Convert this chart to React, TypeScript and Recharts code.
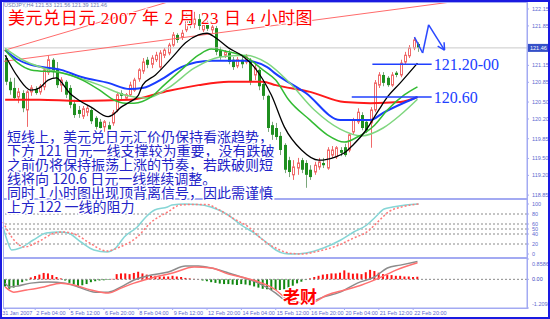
import React from 'react';
import { ComposedChart, Bar, Line, XAxis, YAxis, ReferenceLine, Cell } from 'recharts';

// ---------- data ----------
const SLOTS = 122; // bar slots shown on the time axis (97 bars + empty space on the right)

const openP = [
  121.28, 120.86, 120.75, 120.59, 120.66, 120.36, 120.68, 120.73, 120.68, 120.77,
  121.03, 121.25, 121.07, 120.80, 120.86, 120.75, 120.47, 120.36, 120.25, 120.32,
  120.36, 120.22, 120.15, 120.06, 120.09, 120.13, 120.36, 120.66, 120.57, 120.63,
  120.71, 120.91, 121.05, 121.25, 121.17, 121.25, 121.12, 121.33, 121.37, 121.51,
  121.69, 121.65, 121.78, 121.99, 121.88, 121.97, 121.78, 121.87, 121.78, 121.81,
  121.42, 121.33, 121.37, 121.25, 121.14, 121.25, 121.21, 121.25, 120.98, 121.07,
  120.82, 120.61, 120.09, 120.04, 119.90, 119.74, 119.47, 119.21, 119.33, 119.47,
  119.42, 119.30, 119.26, 119.35, 119.42, 119.33, 119.56, 119.53, 119.65, 119.70,
  119.65, 119.97, 120.15, 120.27, 120.15, 120.13, 120.36, 120.80, 120.98, 120.93,
  120.80, 121.02, 120.98, 121.21, 121.32, 121.46, 121.53,
];
const highP = [
  121.33, 120.93, 120.93, 120.75, 120.71, 120.71, 120.80, 120.78, 120.82, 121.10,
  121.33, 121.28, 121.21, 120.94, 120.89, 120.80, 120.54, 120.43, 120.43, 120.45,
  120.39, 120.25, 120.20, 120.18, 120.15, 120.36, 120.68, 120.71, 120.66, 120.86,
  120.93, 121.10, 121.28, 121.30, 121.33, 121.39, 121.42, 121.46, 121.55, 121.74,
  121.72, 121.78, 122.08, 122.06, 122.10, 122.06, 121.95, 121.94, 121.88, 121.85,
  121.48, 121.42, 121.42, 121.30, 121.30, 121.30, 121.35, 121.28, 121.16, 121.10,
  120.86, 120.63, 120.15, 120.13, 119.97, 119.77, 119.53, 119.47, 119.51, 119.51,
  119.47, 119.38, 119.44, 119.51, 119.51, 119.70, 119.72, 119.72, 119.70, 119.76,
  119.95, 120.22, 120.39, 120.32, 120.18, 120.41, 120.89, 121.03, 121.03, 120.96,
  121.03, 121.05, 121.25, 121.39, 121.51, 121.65, 121.56,
];
const lowP = [
  120.80, 120.63, 120.54, 120.48, 120.32, 120.06, 120.61, 120.63, 120.63, 120.71,
  120.98, 120.93, 120.75, 120.68, 120.57, 120.39, 120.22, 120.22, 120.20, 120.25,
  120.11, 120.00, 119.95, 119.97, 119.92, 120.08, 120.32, 120.55, 120.54, 120.59,
  120.68, 120.86, 121.00, 121.10, 121.10, 121.21, 121.09, 121.28, 121.33, 121.48,
  121.55, 121.60, 121.74, 121.81, 121.81, 121.78, 121.74, 121.76, 121.72, 121.33,
  121.25, 121.28, 121.17, 121.07, 121.10, 121.10, 121.17, 120.80, 120.89, 120.71,
  120.54, 119.97, 119.83, 119.83, 119.56, 119.24, 119.17, 119.12, 119.21, 119.24,
  118.98, 119.12, 119.21, 119.30, 119.33, 119.30, 119.51, 119.49, 119.54, 119.53,
  119.61, 119.92, 120.11, 120.00, 119.95, 119.69, 120.32, 120.75, 120.78, 120.77,
  120.77, 120.94, 120.94, 121.16, 121.28, 121.42, 121.39,
];
const closeP = [
  120.86, 120.71, 120.57, 120.68, 120.39, 120.68, 120.75, 120.66, 120.78, 121.07,
  121.25, 121.03, 120.80, 120.89, 120.63, 120.45, 120.27, 120.29, 120.38, 120.39,
  120.16, 120.06, 120.04, 120.15, 120.00, 120.31, 120.63, 120.61, 120.63, 120.80,
  120.89, 121.07, 121.21, 121.16, 121.28, 121.33, 121.37, 121.42, 121.51, 121.69,
  121.60, 121.72, 121.99, 121.87, 121.97, 121.85, 121.87, 121.80, 121.83, 121.39,
  121.30, 121.39, 121.21, 121.12, 121.25, 121.17, 121.30, 120.86, 121.10, 120.78,
  120.61, 120.04, 119.92, 119.88, 119.65, 119.30, 119.26, 119.35, 119.42, 119.30,
  119.21, 119.17, 119.38, 119.44, 119.38, 119.65, 119.65, 119.69, 119.60, 119.56,
  119.92, 120.18, 120.32, 120.04, 120.00, 120.36, 120.84, 120.98, 120.84, 120.80,
  120.98, 120.98, 121.19, 121.33, 121.46, 121.60, 121.46,
];

// moving averages: [bar index, price]
const maBlack: [number, number][] = [
  [0, 121.33], [3, 120.94], [6, 120.71], [8, 120.75], [10, 120.89], [12, 120.93], [13, 120.86],
  [15, 120.66], [17, 120.54], [20, 120.41], [24, 120.24], [25, 120.27], [27, 120.41], [29, 120.50],
  [31, 120.62], [32, 120.80], [35, 120.98], [39, 121.30], [42, 121.55], [45, 121.69], [47, 121.72],
  [49, 121.64], [52, 121.46], [55, 121.33], [58, 121.12], [60, 120.90], [62, 120.62], [65, 120.06],
  [69, 119.65], [73, 119.47], [77, 119.53], [79, 119.60], [81, 119.74], [84, 120.00], [87, 120.36],
  [89, 120.59], [92, 120.84], [96, 121.19],
];
const maGreen: [number, number][] = [
  [0, 121.42], [3, 121.19], [6, 121.07], [13, 121.02], [18, 120.89], [22, 120.71], [25, 120.55],
  [28, 120.48], [30, 120.48], [34, 120.59], [37, 120.80], [41, 121.07], [45, 121.33], [48, 121.44],
  [52, 121.39], [56, 121.30], [60, 121.07], [63, 120.89], [66, 120.54], [71, 120.18], [75, 119.92],
  [79, 119.79], [82, 119.88], [86, 120.09], [89, 120.36], [93, 120.63], [96, 120.77],
];
const maLightGreen: [number, number][] = [
  [0, 121.45], [4, 121.25], [9, 121.10], [15, 120.98], [22, 120.80], [28, 120.62], [33, 120.57],
  [38, 120.75], [44, 121.10], [50, 121.30], [56, 121.33], [61, 121.19], [66, 120.86], [72, 120.36],
  [78, 120.02], [83, 119.90], [88, 120.04], [92, 120.27], [96, 120.55],
];
const maBlue: [number, number][] = [
  [0, 121.42], [3, 121.25], [6, 121.16], [13, 121.07], [18, 120.94], [24, 120.84], [29, 120.73],
  [32, 120.75], [37, 120.93], [41, 121.12], [48, 121.23], [56, 121.23], [61, 121.12], [63, 121.00],
  [70, 120.66], [78, 120.18], [85, 120.18], [88, 120.31], [96, 120.59],
];
const maRed: [number, number][] = [
  [0, 120.54], [8, 120.54], [17, 120.52], [29, 120.54], [37, 120.68], [45, 120.80], [52, 120.86],
  [60, 120.86], [63, 120.80], [71, 120.68], [79, 120.50], [85, 120.48], [92, 120.50], [96, 120.59],
];

// stochastic: [bar index, value]
const stochK: [number, number][] = [
  [0, 54], [1, 26], [2, 8], [4, 12], [7, 28], [10, 42], [13, 44], [15, 42], [18, 24], [21, 8],
  [24, 4], [26, 12], [28, 34], [31, 54], [33, 74], [35, 88], [38, 94], [39, 98], [42, 100], [45, 99],
  [48, 94], [52, 78], [55, 58], [58, 42], [61, 22], [63, 8], [65, 1], [67, 0], [70, 2], [74, 12],
  [78, 28], [81, 44], [84, 58], [86, 74], [88, 90], [90, 94], [93, 98], [96, 100],
];
const stochD: [number, number][] = [
  [0, 64], [2, 34], [5, 14], [8, 24], [12, 42], [14, 44], [17, 38], [20, 22], [24, 6], [27, 14],
  [31, 34], [34, 62], [38, 84], [41, 98], [44, 99], [47, 99], [50, 88], [53, 72], [57, 52], [60, 28],
  [63, 12], [66, 2], [69, 0], [73, 6], [77, 16], [81, 32], [84, 44], [87, 68], [89, 84], [92, 94],
  [96, 100],
];

// MACD(5,34,5)
const macdMain: [number, number][] = [
  [0, -0.16], [1, -0.32], [3, -0.28], [6, -0.16], [10, -0.11], [14, -0.16], [17, -0.32], [21, -0.54],
  [24, -0.54], [27, -0.32], [30, -0.03], [34, 0.18], [38, 0.31], [42, 0.56], [45, 0.56], [48, 0.48],
  [52, 0.27], [55, 0.10], [59, -0.16], [63, -0.58], [65, -0.87], [67, -1.0], [70, -1.0], [74, -0.75],
  [78, -0.54], [82, -0.16], [86, 0.10], [89, 0.48], [92, 0.60], [96, 0.75],
];
const macdSignal: [number, number][] = [
  [0, -0.32], [2, -0.54], [5, -0.45], [9, -0.32], [13, -0.16], [16, -0.24], [20, -0.45], [24, -0.58],
  [27, -0.37], [30, -0.16], [34, 0.05], [39, 0.27], [44, 0.52], [48, 0.48], [52, 0.22], [55, 0.10],
  [59, -0.11], [63, -0.45], [65, -0.75], [67, -0.96], [71, -1.0], [75, -0.66], [79, -0.45], [83, -0.24],
  [87, 0.05], [91, 0.39], [96, 0.70],
];
const macdHist = [
  -0.30, -0.40, -0.35, -0.25, -0.12, -0.05, 0.08, 0.14, 0.20, 0.27,
  0.25, 0.18, 0.10, 0.04, -0.05, -0.15, -0.22, -0.28, -0.25, -0.20,
  -0.12, -0.08, -0.05, -0.04, -0.02, 0.02, 0.22, 0.25, 0.25, 0.22,
  0.27, 0.32, 0.25, 0.20, 0.15, 0.15, 0.12, 0.12, 0.12, 0.15,
  0.12, 0.10, 0.06, 0.04, 0.02, 0.01, -0.05, -0.08, -0.12, -0.15,
  -0.18, -0.20, -0.20, -0.22, -0.24, -0.20, -0.22, -0.25, -0.30, -0.35,
  -0.40, -0.42, -0.45, -0.45, -0.45, -0.42, -0.35, -0.27, -0.17, -0.10,
  -0.03, 0.04, 0.10, 0.15, 0.20, 0.22, 0.25, 0.25, 0.28, 0.38,
  0.28, 0.24, 0.25, 0.22, 0.30, 0.40, 0.35, 0.28, 0.22, 0.18,
  0.18, 0.15, 0.15, 0.12, 0.12, 0.10, 0.11,
];

// axes
const xTickIdx = [0, 7, 15, 23, 31, 39, 47, 55, 63, 71, 79, 87, 95];
const xTickLabels = [
  '31 Jan 2007', '2 Feb 04:00', '5 Feb 12:00', '6 Feb 20:00', '8 Feb 04:00', '9 Feb 12:00',
  '12 Feb 20:00', '14 Feb 04:00', '15 Feb 12:00', '16 Feb 20:00', '20 Feb 04:00', '21 Feb 12:00',
  '22 Feb 20:00',
];
const priceTicks = [122.15, 121.85, 121.15, 120.85, 120.5, 120.2, 119.85, 119.5, 119.2, 118.85];
const stochTicks = [100, 80, 60, 50, 40, 20, 0];
const stochLevels = [80, 60, 50, 40, 20];
const macdTicks = [0.8586, 0, -1.2098];
const bidPrice = 121.46;

// drawn annotations (bar index, price)
const trendLines: [number, number][][] = [
  [[-0.5, 121.41], [39.5, 122.31]],
  [[-0.5, 121.22], [107.4, 122.31]],
];
const arrowPath: [number, number][] = [[95.3, 121.65], [97.2, 121.37], [98.6, 121.87], [102.3, 121.42]];
const arrowWings: [number, number][] = [[102.2, 121.56], [100.7, 121.49]];
const levelLines: { from: number; to: number; price: number; label: string }[] = [
  { from: 85.5, to: 99.3, price: 121.17, label: '121.20-00' },
  { from: 80.7, to: 99.3, price: 120.59, label: '120.60' },
];

const titleText = '美元兑日元 2007 年 2 月 23 日 4 小时图';
const headerText = 'USDJPY,H4  121.53 121.56 121.39 121.46';
const macdLabel = 'MACD(5,34,5) 0.7509 0.6982 0.1056 0.0000';
const noteLines = [
  '短线上，美元兑日元汇价仍保持看涨趋势，',
  '下方 121 日元一线支撑较为重要，没有跌破',
  '之前仍将保持振荡上涨的节奏，若跌破则短',
  '线将向 120.6 日元一线继续调整。',
  '同时 1 小时图出现顶背离信号，因此需谨慎',
  '上方 122 一线的阻力',
];
const watermark = '老财';

// ---------- build rows ----------
const rows: any[] = Array.from({ length: SLOTS }, (_, i) => ({ i }));
openP.forEach((o, i) => {
  const r = rows[i];
  r.o = o; r.h = highP[i]; r.l = lowP[i]; r.c = closeP[i];
  r.range = [lowP[i], highP[i]];
  r.hist = macdHist[i];
});
const put = (key: string, pts: [number, number][]) => pts.forEach(([i, v]) => { rows[i][key] = v; });
put('black', maBlack); put('green', maGreen); put('lgreen', maLightGreen);
put('blue', maBlue); put('red', maRed);
put('k', stochK); put('d', stochD);
put('macd', macdMain); put('sig', macdSignal);

// ---------- styles ----------
const AXIS_TXT = '#5d6ad0';
const FRAME = '#a3aaf2';
const BULL = '#f06a6a';
const BEAR = '#1f8f1f';
const BEAR_WICK = '#7aa77a';
const SMALL_FONT = '"Liberation Sans", Arial, sans-serif';
const CJK = '"Noto Sans CJK SC", sans-serif';

const Candle = (props: any) => {
  const { x, y, width, height, payload } = props;
  if (!payload || payload.o == null || x == null) return null;
  const top = Math.min(y, y + height);
  const hpx = Math.abs(height);
  const span = payload.h - payload.l;
  const k = span > 0 ? hpx / span : 0;
  const yo = top + (payload.h - payload.o) * k;
  const yc = top + (payload.h - payload.c) * k;
  const px = Math.round(x + width / 2);
  const bTop = Math.min(yo, yc);
  const bBot = Math.max(yo, yc);
  if (payload.c >= payload.o) {
    return (
      <g>
        <line x1={px + 0.5} x2={px + 0.5} y1={top} y2={bTop} stroke={BULL} />
        <line x1={px + 0.5} x2={px + 0.5} y1={bBot} y2={top + hpx} stroke={BULL} />
        <rect x={px - 0.5} y={bTop} width={2} height={Math.max(bBot - bTop, 1)} fill="#ffffff" stroke={BULL} />
      </g>
    );
  }
  return (
    <g>
      <line x1={px + 0.5} x2={px + 0.5} y1={top} y2={top + hpx} stroke={BEAR_WICK} />
      <rect x={px - 1} y={bTop} width={3} height={Math.max(bBot - bTop, 1)} fill={BEAR} />
    </g>
  );
};

const PriceTick = (p: any) => (
  <text x={p.x + 1} y={p.y + 2} fontSize={5.5} fill={AXIS_TXT} fontFamily={SMALL_FONT}>
    {Number(p.payload.value).toFixed(2)}
  </text>
);
const StochTick = (p: any) => (
  <text x={p.x + 1} y={p.y + 2} fontSize={5.5} fill={AXIS_TXT} fontFamily={SMALL_FONT}>
    {String(p.payload.value)}
  </text>
);
const MacdTick = (p: any) => {
  const v = p.payload.value;
  const dy = v > 0 ? 7 : v < 0 ? -2 : 2;
  const txt = v === 0 ? '0.00' : v.toFixed(4);
  return (
    <text x={p.x + 1} y={p.y + dy} fontSize={5.5} fill={v === 0 ? '#3b3fc0' : AXIS_TXT} fontFamily={SMALL_FONT}>
      {txt}
    </text>
  );
};
const TimeTick = (p: any) => {
  const idx = xTickIdx.indexOf(Number(p.payload.value));
  return (
    <text x={p.x + (idx === 0 ? -3 : 1)} y={p.y + 3} fontSize={5.5} fill={AXIS_TXT} fontFamily={SMALL_FONT}>
      {xTickLabels[idx] ?? ''}
    </text>
  );
};
const BidLabel = (p: any) => {
  const vb = p.viewBox || {};
  const x = (vb.x ?? 0) + (vb.width ?? 0) + 1;
  const y = vb.y ?? 0;
  return (
    <g>
      <rect x={x} y={y - 4} width={21} height={8} fill="#3550c8" />
      <text x={x + 2} y={y + 2} fontSize={5.5} fill="#ffffff" fontFamily={SMALL_FONT}>{bidPrice.toFixed(2)}</text>
    </g>
  );
};

const lineProps = { type: 'monotone' as const, dot: false, connectNulls: true, isAnimationActive: false, activeDot: false };

export default function App() {
  return (
    <div style={{ position: 'absolute', left: 0, top: 0, width: 550, height: 319, background: '#ffffff', overflow: 'hidden' }}>
      {/* main price panel */}
      <div style={{ position: 'absolute', left: 0, top: 0 }}>
        <ComposedChart width={550} height={200} data={rows} margin={{ top: 3, right: 0, bottom: 2, left: 3 }}>
          <XAxis dataKey="i" type="category" hide />
          <XAxis xAxisId="n" dataKey="i" type="number" domain={[-0.5, 121.5]} hide allowDataOverflow />
          <YAxis orientation="right" width={23} domain={[118.799, 122.256]} ticks={priceTicks} interval={0}
            tick={<PriceTick />} tickSize={2} tickLine={{ stroke: FRAME }} axisLine={{ stroke: FRAME }} allowDataOverflow />
          <ReferenceLine y={bidPrice} stroke="#c9c9c9" label={<BidLabel />} ifOverflow="visible" />
          {trendLines.map((seg, k) => (
            <ReferenceLine key={'t' + k} xAxisId="n" ifOverflow="visible" stroke="#ff6b6b" strokeWidth={1}
              segment={[{ x: seg[0][0], y: seg[0][1] }, { x: seg[1][0], y: seg[1][1] }]} />
          ))}
          <Bar dataKey="range" barSize={3} shape={(p: any) => <Candle {...p} />} isAnimationActive={false} />
          <Line dataKey="red" stroke="#ff1a1a" strokeWidth={2} {...lineProps} />
          <Line dataKey="blue" stroke="#1a3cff" strokeWidth={2} {...lineProps} />
          <Line dataKey="lgreen" stroke="#7fd67f" strokeWidth={1.5} {...lineProps} />
          <Line dataKey="green" stroke="#33bb33" strokeWidth={1.5} {...lineProps} />
          <Line dataKey="black" stroke="#000000" strokeWidth={1.3} {...lineProps} />
          {levelLines.map((l, k) => (
            <ReferenceLine key={'l' + k} xAxisId="n" ifOverflow="visible" stroke="#2040ff" strokeWidth={1.5}
              segment={[{ x: l.from, y: l.price }, { x: l.to, y: l.price }]}
              label={{ value: l.label, position: 'right', offset: 2, fill: '#2040ff', fontSize: 16, fontFamily: '"Liberation Serif", serif' }} />
          ))}
          {arrowPath.slice(1).map((pt, k) => (
            <ReferenceLine key={'a' + k} xAxisId="n" ifOverflow="visible" stroke="#2a48ff" strokeWidth={1.5}
              segment={[{ x: arrowPath[k][0], y: arrowPath[k][1] }, { x: pt[0], y: pt[1] }]} />
          ))}
          {arrowWings.map((pt, k) => (
            <ReferenceLine key={'w' + k} xAxisId="n" ifOverflow="visible" stroke="#2a48ff" strokeWidth={1.5}
              segment={[{ x: arrowPath[3][0], y: arrowPath[3][1] }, { x: pt[0], y: pt[1] }]} />
          ))}
        </ComposedChart>
      </div>

      {/* stochastic panel */}
      <div style={{ position: 'absolute', left: 0, top: 199 }}>
        <ComposedChart width={550} height={59} data={rows} margin={{ top: 1, right: 0, bottom: 1, left: 3 }}>
          <XAxis dataKey="i" type="category" hide />
          <YAxis orientation="right" width={23} domain={[-6, 108]} ticks={stochTicks} interval={0}
            tick={<StochTick />} tickSize={2} tickLine={{ stroke: FRAME }} axisLine={{ stroke: FRAME }} allowDataOverflow />
          {stochLevels.map((v) => (
            <ReferenceLine key={v} y={v} stroke="#8a8a8a" strokeDasharray="2 2" />
          ))}
          <Line dataKey="k" stroke="#86d6d6" strokeWidth={1.5} {...lineProps} />
          <Line dataKey="d" stroke="#ff7a7a" strokeWidth={1.5} strokeDasharray="2 2" {...lineProps} />
        </ComposedChart>
      </div>

      {/* MACD panel */}
      <div style={{ position: 'absolute', left: 0, top: 258 }}>
        <ComposedChart width={550} height={61} data={rows} margin={{ top: 1, right: 0, bottom: 0, left: 3 }}>
          <XAxis dataKey="i" type="category" ticks={xTickIdx} interval={0} height={11} tick={<TimeTick />}
            tickSize={2} tickLine={{ stroke: FRAME }} axisLine={{ stroke: FRAME }} />
          <YAxis orientation="right" width={23} domain={[-1.2098, 0.8586]} ticks={macdTicks} interval={0}
            tick={<MacdTick />} tickSize={2} tickLine={{ stroke: FRAME }} axisLine={{ stroke: FRAME }} allowDataOverflow />
          <ReferenceLine y={0} stroke="#8a8a8a" strokeDasharray="2 2" />
          <Bar dataKey="hist" barSize={2} isAnimationActive={false}>
            {rows.map((r, k) => (
              <Cell key={k} fill={(r.hist ?? 0) >= 0 ? '#ff1010' : '#118811'} />
            ))}
          </Bar>
          <Line dataKey="macd" stroke="#8c8c8c" strokeWidth={1.5} {...lineProps} />
          <Line dataKey="sig" stroke="#ff7070" strokeWidth={1.5} {...lineProps} />
        </ComposedChart>
      </div>

      {/* frames and texts */}
      <svg width={550} height={319} style={{ position: 'absolute', left: 0, top: 0, pointerEvents: 'none' }}>
        <rect x={3.5} y={2.5} width={524} height={196} fill="none" stroke={FRAME} />
        <rect x={3.5} y={199.5} width={524} height={58} fill="none" stroke={FRAME} />
        <rect x={3.5} y={258.5} width={524} height={50} fill="none" stroke={FRAME} />
        <rect x={1} y={1} width={548} height={317} fill="none" stroke="#1a1ae0" strokeWidth={2} />
        <text x={4} y={7} fontSize={5.5} fill="#6e78b0" fontFamily={SMALL_FONT}>{headerText}</text>
        <text x={8} y={24} fontSize={17} letterSpacing={0.6} fill="#ff0000" stroke="#ffffff" strokeWidth={2} paintOrder="stroke"
          fontFamily={'"Liberation Serif", "Noto Sans CJK SC", serif'}>{titleText}</text>
        {noteLines.map((t, k) => (
          <text key={k} x={7} y={142 + k * 14} fontSize={14} fill="#2424c8" stroke="#ffffff" strokeWidth={3}
            paintOrder="stroke" fontFamily={CJK}>{t}</text>
        ))}
        <text x={283} y={303} fontSize={17} fontWeight="bold" fill="#ff0000" stroke="#ffffff" strokeWidth={2}
          paintOrder="stroke" fontFamily={CJK}>{watermark}</text>
      </svg>
    </div>
  );
}
